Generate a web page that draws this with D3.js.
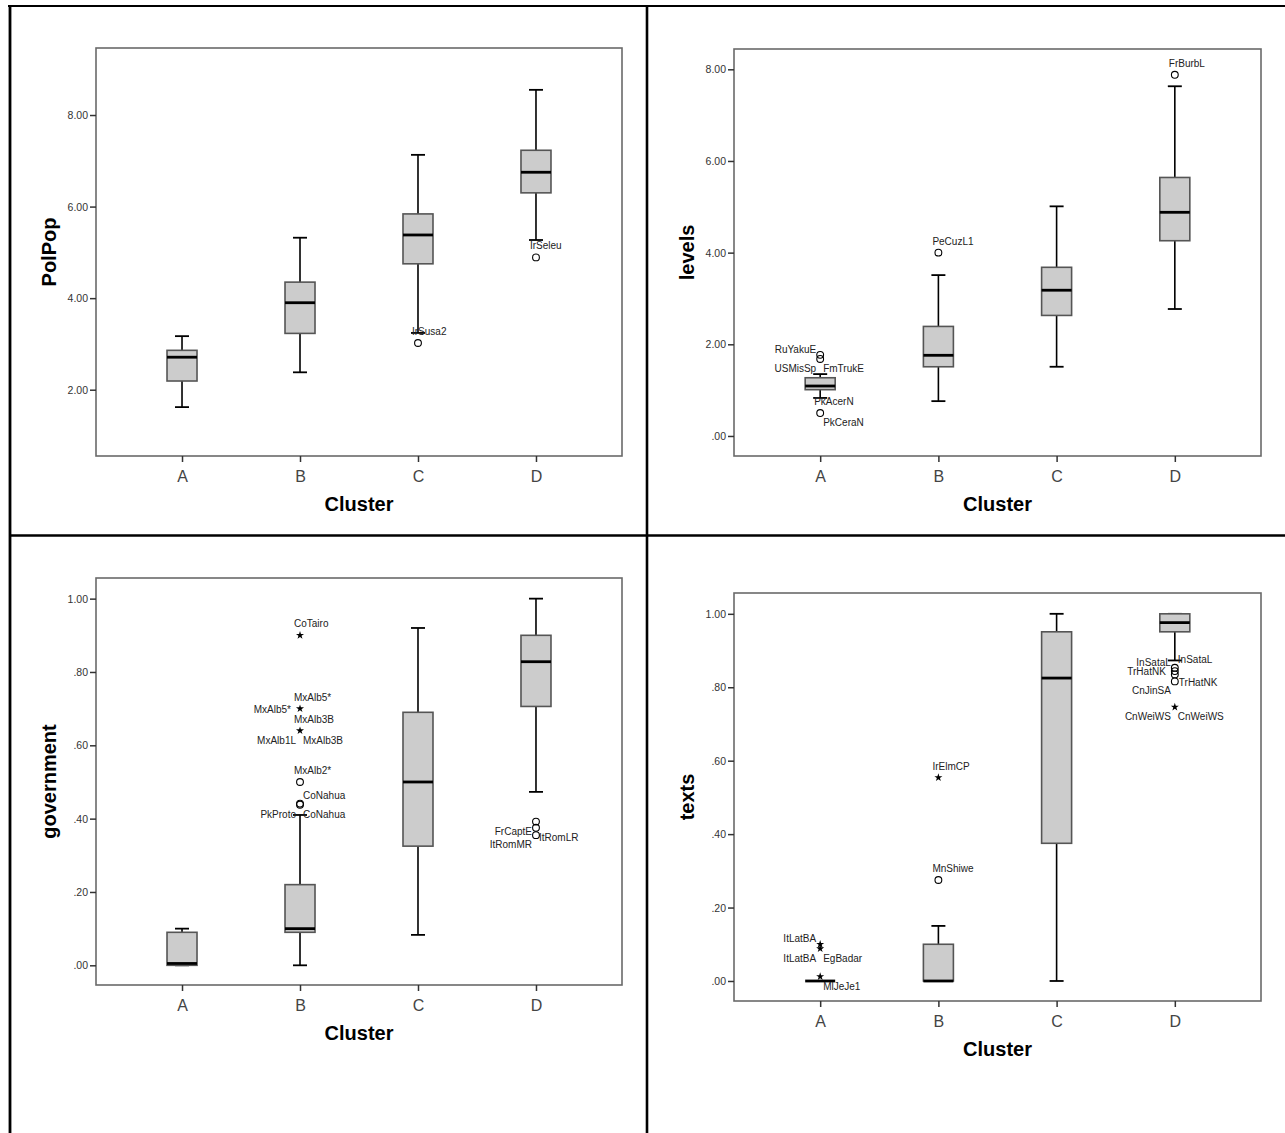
<!DOCTYPE html>
<html><head><meta charset="utf-8">
<script src="https://cdn.jsdelivr.net/npm/d3@7"></script>
<style>body{margin:0;background:#fff}svg{display:block}</style>
</head><body>
<script>
// ---------- data ----------
const categories = ["A","B","C","D"];

// [lower whisker, Q1, median, Q3, upper whisker]
const polpopTicks = [2,4,6,8];
const polpopStats = [
  [1.62, 2.19, 2.71, 2.86, 3.17],
  [2.38, 3.23, 3.90, 4.35, 5.32],
  [3.24, 4.75, 5.38, 5.84, 7.13],
  [5.27, 6.30, 6.75, 7.23, 8.55]
];
const polpopOutliers = [
  {cluster:"C", value:3.02, shape:"circle", labels:[["IrSusa2","n"]]},
  {cluster:"D", value:4.89, shape:"circle", labels:[["IrSeleu","n"]]}
];

const levelsTicks = [0,2,4,6,8];
const levelsStats = [
  [0.83, 1.01, 1.09, 1.27, 1.35],
  [0.76, 1.51, 1.76, 2.39, 3.51],
  [1.51, 2.63, 3.18, 3.68, 5.01],
  [2.77, 4.26, 4.88, 5.64, 7.63]
];
const levelsOutliers = [
  {cluster:"A", value:1.77, shape:"circle", labels:[["RuYakuE","nw"]]},
  {cluster:"A", value:1.68, shape:"circle", labels:[["USMisSp","sw"],["FmTrukE","se"]]},
  {cluster:"A", value:0.50, shape:"circle", labels:[["PkAcerN","n"],["PkCeraN","se"]]},
  {cluster:"B", value:4.00, shape:"circle", labels:[["PeCuzL1","n"]]},
  {cluster:"D", value:7.88, shape:"circle", labels:[["FrBurbL","n"]]}
];

const governmentTicks = [0,0.2,0.4,0.6,0.8,1.0];
const governmentStats = [
  [0.000, 0.000, 0.005, 0.090, 0.100],
  [0.000, 0.090, 0.100, 0.220, 0.410],
  [0.083, 0.325, 0.500, 0.690, 0.920],
  [0.473, 0.706, 0.828, 0.900, 1.000]
];
const governmentOutliers = [
  {cluster:"B", value:0.90, shape:"star", labels:[["CoTairo","n"]]},
  {cluster:"B", value:0.70, shape:"star", labels:[["MxAlb5*","n"],["MxAlb5*","w"]]},
  {cluster:"B", value:0.64, shape:"star", labels:[["MxAlb3B","n"],["MxAlb1L","sw"],["MxAlb3B","se"]]},
  {cluster:"B", value:0.50, shape:"circle", labels:[["MxAlb2*","n"]]},
  {cluster:"B", value:0.441, shape:"circle", labels:[["CoNahua","ne"]]},
  {cluster:"B", value:0.438, shape:"circle", labels:[["PkProto","sw"],["CoNahua","se"]]},
  {cluster:"D", value:0.392, shape:"circle", labels:[["FrCaptE","sw"]]},
  {cluster:"D", value:0.375, shape:"circle", labels:[["ItRomLR","se"]]},
  {cluster:"D", value:0.355, shape:"circle", labels:[["ItRomMR","sw"]]}
];

const textsTicks = [0,0.2,0.4,0.6,0.8,1.0];
const textsStats = [
  [0.000, 0.000, 0.000, 0.000, 0.000],
  [0.000, 0.000, 0.000, 0.100, 0.150],
  [0.000, 0.375, 0.825, 0.951, 1.000],
  [0.873, 0.951, 0.976, 1.000, 1.000]
];
const textsOutliers = [
  {cluster:"A", value:0.100, shape:"star", labels:[["ItLatBA","nw"]]},
  {cluster:"A", value:0.088, shape:"star", labels:[["ItLatBA","sw"],["EgBadar","se"]]},
  {cluster:"A", value:0.012, shape:"star", labels:[["MlJeJe1","se"]]},
  {cluster:"B", value:0.554, shape:"star", labels:[["IrElmCP","n"]]},
  {cluster:"B", value:0.275, shape:"circle", labels:[["MnShiwe","n"]]},
  {cluster:"D", value:0.853, shape:"circle", labels:[["InSataL","nw"],["InSataL","ne"]]},
  {cluster:"D", value:0.844, shape:"circle", labels:[["TrHatNK","w"]]},
  {cluster:"D", value:0.835, shape:"circle", labels:[]},
  {cluster:"D", value:0.816, shape:"circle", labels:[["TrHatNK","e"],["CnJinSA","sw"]]},
  {cluster:"D", value:0.746, shape:"star", labels:[["CnWeiWS","sw"],["CnWeiWS","se"]]}
];

const xTitle = "Cluster";

// ---------- layout ----------
const W = 1285, H = 1133;
const panels = [
  {title:"PolPop", ticks:polpopTicks, stats:polpopStats, outliers:polpopOutliers,
   x0:96, x1:622, y0:48, y1:456, dom:[0.552, 9.464]},
  {title:"levels", ticks:levelsTicks, stats:levelsStats, outliers:levelsOutliers,
   x0:734, x1:1261, y0:49, y1:456, dom:[-0.437, 8.443]},
  {title:"government", ticks:governmentTicks, stats:governmentStats, outliers:governmentOutliers,
   x0:96, x1:622, y0:578, y1:985, dom:[-0.0537, 1.0563]},
  {title:"texts", ticks:textsTicks, stats:textsStats, outliers:textsOutliers,
   x0:734, x1:1261, y0:593, y1:1001, dom:[-0.0545, 1.0567]}
];

const FONT = "'Liberation Sans', Arial, Helvetica, sans-serif";
const fmt = v => d3.format(".2f")(v).replace(/^0\./, ".");

const placement = {
  n:  {anchor:"start", dx:-6, dy:-8},
  nw: {anchor:"end",   dx:-4, dy:-2},
  ne: {anchor:"start", dx: 3, dy:-5},
  w:  {anchor:"end",   dx:-9, dy: 4},
  e:  {anchor:"start", dx: 4, dy: 5},
  sw: {anchor:"end",   dx:-4, dy:13},
  se: {anchor:"start", dx: 3, dy:13}
};

const svg = d3.select("body").append("svg").attr("width", W).attr("height", H);
svg.append("rect").attr("width", W).attr("height", H).attr("fill", "#fff");

const boxW = 30, capW = 14;

panels.forEach(p => {
  const g = svg.append("g");
  const x = d3.scalePoint().domain(categories).range([p.x0, p.x1]).padding(0.729);
  const y = d3.scaleLinear().domain(p.dom).range([p.y1, p.y0]);

  // frame
  g.append("rect").attr("x", p.x0).attr("y", p.y0)
    .attr("width", p.x1 - p.x0).attr("height", p.y1 - p.y0)
    .attr("fill", "none").attr("stroke", "#6a6a6a").attr("stroke-width", 1.6);

  // y axis
  const ya = g.append("g").attr("transform", `translate(${p.x0},0)`)
    .call(d3.axisLeft(y).tickValues(p.ticks).tickSize(6).tickPadding(2).tickFormat(fmt));
  ya.select(".domain").remove();
  ya.selectAll(".tick line").attr("stroke", "#333").attr("stroke-width", 1.5);
  ya.selectAll(".tick text").attr("fill", "#333").attr("font-family", FONT)
    .attr("font-size", 10.5).attr("dy", "0.35em");

  // x axis
  const xa = g.append("g").attr("transform", `translate(0,${p.y1})`)
    .call(d3.axisBottom(x).tickSize(6).tickPadding(5));
  xa.select(".domain").remove();
  xa.selectAll(".tick line").attr("stroke", "#333").attr("stroke-width", 1.5);
  xa.selectAll(".tick text").attr("fill", "#444")
    .attr("font-family", "'Liberation Sans Narrow', " + FONT)
    .attr("font-size", 16).attr("dy", "0.95em");

  // boxes
  p.stats.forEach((s, i) => {
    const cx = x(categories[i]);
    const [lo, q1, md, q3, hi] = s;
    const bg = g.append("g");
    bg.append("line").attr("x1", cx).attr("x2", cx).attr("y1", y(lo)).attr("y2", y(q1))
      .attr("stroke", "#000").attr("stroke-width", 1.6);
    bg.append("line").attr("x1", cx).attr("x2", cx).attr("y1", y(q3)).attr("y2", y(hi))
      .attr("stroke", "#000").attr("stroke-width", 1.6);
    [lo, hi].forEach(v => bg.append("line")
      .attr("x1", cx - capW/2).attr("x2", cx + capW/2).attr("y1", y(v)).attr("y2", y(v))
      .attr("stroke", "#000").attr("stroke-width", 1.8));
    bg.append("rect").attr("x", cx - boxW/2).attr("y", y(q3))
      .attr("width", boxW).attr("height", Math.max(0, y(q1) - y(q3)))
      .attr("fill", "#cccccc").attr("stroke", "#555").attr("stroke-width", 1.6);
    bg.append("line").attr("x1", cx - boxW/2).attr("x2", cx + boxW/2)
      .attr("y1", y(md)).attr("y2", y(md)).attr("stroke", "#000").attr("stroke-width", 2.8);
  });

  // outliers
  const star = d3.symbol().type(d3.symbolStar).size(20);
  p.outliers.forEach(o => {
    const mx = x(o.cluster), my = y(o.value);
    if (o.shape === "circle") {
      g.append("circle").attr("cx", mx).attr("cy", my).attr("r", 3.4)
        .attr("fill", "none").attr("stroke", "#000").attr("stroke-width", 1.1);
    } else {
      g.append("path").attr("d", star()).attr("transform", `translate(${mx},${my})`)
        .attr("fill", "#000");
    }
    o.labels.forEach(([txt, pos]) => {
      const pl = placement[pos];
      g.append("text").attr("x", mx + pl.dx).attr("y", my + pl.dy)
        .attr("text-anchor", pl.anchor).attr("font-family", FONT)
        .attr("font-size", 10).attr("fill", "#222").text(txt);
    });
  });

  // titles
  g.append("text").attr("x", (p.x0 + p.x1) / 2).attr("y", p.y1 + 55)
    .attr("text-anchor", "middle").attr("font-family", FONT)
    .attr("font-weight", "bold").attr("font-size", 20).attr("fill", "#000").text(xTitle);
  g.append("text")
    .attr("transform", `translate(${p.x0 - 40},${(p.y0 + p.y1) / 2}) rotate(-90)`)
    .attr("text-anchor", "middle").attr("font-family", FONT)
    .attr("font-weight", "bold").attr("font-size", 20).attr("fill", "#000").text(p.title);
});

// table grid lines
const grid = svg.append("g").attr("stroke", "#000");
grid.append("line").attr("x1", 8).attr("x2", W).attr("y1", 6).attr("y2", 6).attr("stroke-width", 2.2);
grid.append("line").attr("x1", 10).attr("x2", 10).attr("y1", 5).attr("y2", H).attr("stroke-width", 2.8);
grid.append("line").attr("x1", 647).attr("x2", 647).attr("y1", 5).attr("y2", H).attr("stroke-width", 2.6);
grid.append("line").attr("x1", 9).attr("x2", W).attr("y1", 535.5).attr("y2", 535.5).attr("stroke-width", 2.6);
</script>
</body></html>
